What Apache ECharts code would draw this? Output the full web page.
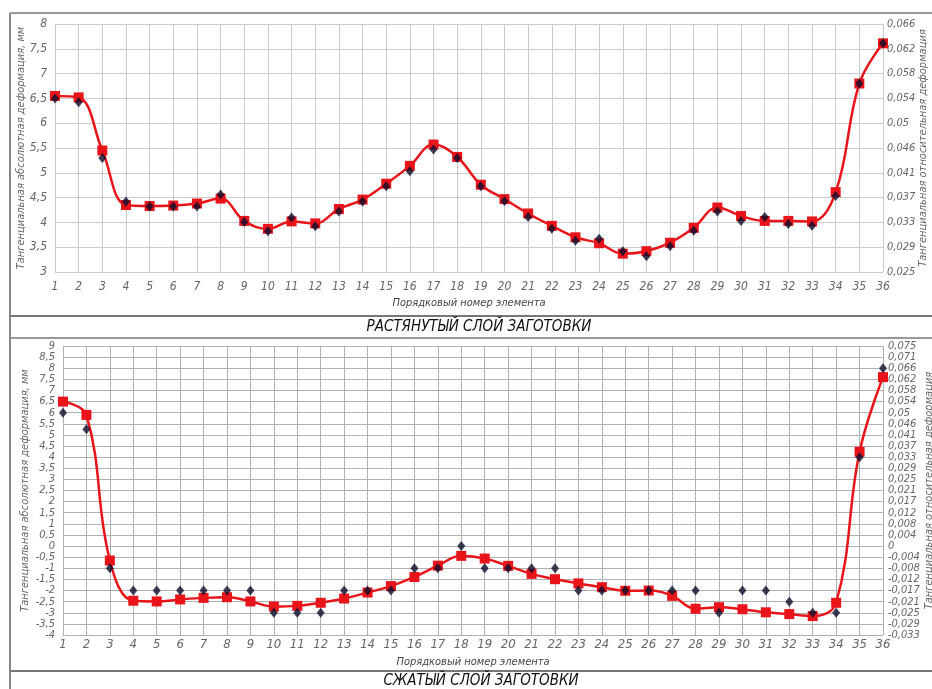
<!DOCTYPE html>
<html>
<head>
<meta charset="utf-8">
<script src="https://cdn.jsdelivr.net/npm/echarts@6/dist/echarts.min.js"></script>
<style>
html,body{margin:0;padding:0;background:#fff;}
#c{width:932px;height:689px;}
</style>
</head>
<body>
<div id="c"></div>
<script>
var categories = [];
for (var i = 1; i <= 36; i++) categories.push(String(i));

var topRed = [6.55, 6.52, 5.45, 4.35, 4.33, 4.34, 4.38, 4.48, 4.03, 3.87, 4.02, 3.98, 4.27, 4.46, 4.78, 5.14, 5.57, 5.32, 4.76, 4.47, 4.18, 3.93, 3.70, 3.58, 3.37, 3.42, 3.59, 3.89, 4.30, 4.13, 4.03, 4.03, 4.02, 4.61, 6.80, 7.61];
var topBlack = [6.50, 6.42, 5.30, 4.42, 4.32, 4.32, 4.32, 4.56, 4.01, 3.82, 4.10, 3.92, 4.22, 4.42, 4.73, 5.03, 5.47, 5.30, 4.73, 4.43, 4.11, 3.87, 3.63, 3.67, 3.42, 3.32, 3.52, 3.83, 4.22, 4.03, 4.11, 3.97, 3.93, 4.53, 6.80, 7.61];

var botRed = [6.5, 5.9, -0.65, -2.46, -2.49, -2.40, -2.33, -2.30, -2.49, -2.72, -2.69, -2.55, -2.36, -2.09, -1.80, -1.39, -0.88, -0.44, -0.56, -0.89, -1.25, -1.49, -1.68, -1.85, -2.01, -2.0, -2.24, -2.82, -2.75, -2.84, -2.98, -3.06, -3.15, -2.55, 4.24, 7.6];
var botBlack = [6, 5.25, -1, -2, -2, -2, -2, -2, -2, -3, -3, -3, -2, -2, -2, -1, -1, 0, -1, -1, -1, -1, -2, -2, -2, -2, -2, -2, -3, -2, -2, -2.5, -3, -3, 4, 8];

var topRightTicks = ['0,025', '0,029', '0,033', '0,037', '0,041', '0,046', '0,05', '0,054', '0,058', '0,062', '0,066'];
var botRightTicks = ['-0,033', '-0,029', '-0,025', '-0,021', '-0,017', '-0,012', '-0,008', '-0,004', '0', '0,004', '0,008', '0,012', '0,017', '0,021', '0,025', '0,029', '0,033', '0,037', '0,041', '0,046', '0,05', '0,054', '0,058', '0,062', '0,066', '0,071', '0,075'];

var titleTop = 'РАСТЯНУТЫЙ СЛОЙ ЗАГОТОВКИ';
var titleBot = 'СЖАТЫЙ СЛОЙ ЗАГОТОВКИ';
var xName = 'Порядковый номер элемента';
var yNameLeft = 'Тангенциальная абсолютная деформация, мм';
var yNameRight = 'Тангенциальная относительная деформация';

var FONT = '"Liberation Sans Narrow", "DejaVu Sans Condensed", "Roboto", sans-serif';
var labelColor = '#666';
var RED = '#e8141a';
var DARK = '#0c0c2c';

function comma(v) { return String(v).replace('.', ','); }

var chart = echarts.init(document.getElementById('c'), null, {renderer: 'canvas'});

var nameStyle = {color: '#666', fontFamily: FONT, fontStyle: 'italic', fontSize: 11};

var option = {
  backgroundColor: '#fff',
  animation: false,
  grid: [
    {left: 55, top: 24, width: 828, height: 248, containLabel: false, outerBoundsMode: 'none'},
    {left: 63, top: 346, width: 820, height: 289, containLabel: false, outerBoundsMode: 'none'}
  ],
  xAxis: [
    {
      type: 'category', gridIndex: 0, data: categories, boundaryGap: false,
      axisLine: {show: false}, axisTick: {show: false},
      axisLabel: {margin: 9, color: labelColor, fontFamily: FONT, fontStyle: 'italic', fontSize: 12, interval: 0},
      splitLine: {show: true, lineStyle: {color: '#cacaca', width: 1}},
      name: xName, nameLocation: 'middle', nameGap: 26, nameMoveOverlap: false,
      nameTextStyle: {color: '#444', fontFamily: FONT, fontStyle: 'italic', fontSize: 11, verticalAlign: 'top'}
    },
    {
      type: 'category', gridIndex: 1, data: categories, boundaryGap: false,
      axisLine: {show: false}, axisTick: {show: false},
      axisLabel: {margin: 3, color: labelColor, fontFamily: FONT, fontStyle: 'italic', fontSize: 13, interval: 0},
      splitLine: {show: true, lineStyle: {color: '#b0b0b0', width: 1}},
      name: xName, nameLocation: 'middle', nameGap: 22, nameMoveOverlap: false,
      nameTextStyle: {color: '#444', fontFamily: FONT, fontStyle: 'italic', fontSize: 11, verticalAlign: 'top'}
    }
  ],
  yAxis: [
    {
      type: 'value', gridIndex: 0, min: 3, max: 8, interval: 0.5, position: 'left',
      axisLine: {show: false}, axisTick: {show: false},
      axisLabel: {margin: 8, color: labelColor, fontFamily: FONT, fontStyle: 'italic', fontSize: 12, showMinLabel: true, showMaxLabel: true, formatter: function (v) { return comma(v); }},
      splitLine: {show: true, lineStyle: {color: '#cacaca', width: 1}},
      name: yNameLeft, nameLocation: 'middle', nameGap: 28, nameRotate: 90, nameMoveOverlap: false,
      nameTextStyle: nameStyle
    },
    {
      type: 'value', gridIndex: 0, min: 3, max: 8, interval: 0.5, position: 'right',
      axisLine: {show: false}, axisTick: {show: false}, splitLine: {show: false},
      axisLabel: {margin: 4, color: labelColor, fontFamily: FONT, fontStyle: 'italic', fontSize: 11, showMinLabel: true, showMaxLabel: true,
        formatter: function (v) { return topRightTicks[Math.round((v - 3) / 0.5)] || ''; }},
      name: yNameRight, nameLocation: 'middle', nameGap: 35, nameRotate: 90, nameMoveOverlap: false,
      nameTextStyle: nameStyle
    },
    {
      type: 'value', gridIndex: 1, min: -4, max: 9, interval: 0.5, position: 'left',
      axisLine: {show: false}, axisTick: {show: false},
      axisLabel: {margin: 8, color: labelColor, fontFamily: FONT, fontStyle: 'italic', fontSize: 11, lineHeight: 11, showMinLabel: true, showMaxLabel: true, hideOverlap: false,
        formatter: function (v) { return comma(v); }},
      splitLine: {show: true, lineStyle: {color: '#b0b0b0', width: 1}},
      name: yNameLeft, nameLocation: 'middle', nameGap: 32, nameRotate: 90, nameMoveOverlap: false,
      nameTextStyle: nameStyle
    },
    {
      type: 'value', gridIndex: 1, min: -4, max: 9, interval: 0.5, position: 'right',
      axisLine: {show: false}, axisTick: {show: false}, splitLine: {show: false},
      axisLabel: {margin: 5, color: labelColor, fontFamily: FONT, fontStyle: 'italic', fontSize: 11, lineHeight: 11, showMinLabel: true, showMaxLabel: true, hideOverlap: false,
        formatter: function (v) { return botRightTicks[Math.round((v + 4) / 0.5)] || ''; }},
      name: yNameRight, nameLocation: 'middle', nameGap: 41, nameRotate: 90, nameMoveOverlap: false,
      nameTextStyle: nameStyle
    }
  ],
  series: [
    {
      type: 'line', xAxisIndex: 0, yAxisIndex: 0, data: topRed, smooth: 0.4,
      lineStyle: {color: RED, width: 2.5}, itemStyle: {color: RED},
      symbol: 'rect', symbolSize: 10, showSymbol: true, z: 2
    },
    {
      type: 'scatter', xAxisIndex: 0, yAxisIndex: 0, data: topBlack,
      symbol: 'diamond', symbolSize: [8, 10], itemStyle: {color: DARK}, z: 3
    },
    {
      type: 'line', xAxisIndex: 1, yAxisIndex: 2, data: botRed, smooth: 0.4,
      lineStyle: {color: RED, width: 2.5}, itemStyle: {color: RED},
      symbol: 'rect', symbolSize: 10, showSymbol: true, z: 2
    },
    {
      type: 'scatter', xAxisIndex: 1, yAxisIndex: 2, data: botBlack,
      symbol: 'diamond', symbolSize: [8, 10], itemStyle: {color: DARK}, z: 3
    }
  ],
  graphic: [
    {type: 'line', shape: {x1: 10, y1: 13, x2: 932, y2: 13}, style: {stroke: '#999', lineWidth: 2}, silent: true},
    {type: 'line', shape: {x1: 10, y1: 13, x2: 10, y2: 689}, style: {stroke: '#888', lineWidth: 2}, silent: true},
    {type: 'line', shape: {x1: 10, y1: 316, x2: 932, y2: 316}, style: {stroke: '#777', lineWidth: 2}, silent: true},
    {type: 'line', shape: {x1: 10, y1: 338, x2: 932, y2: 338}, style: {stroke: '#999', lineWidth: 2}, silent: true},
    {type: 'line', shape: {x1: 10, y1: 671, x2: 932, y2: 671}, style: {stroke: '#777', lineWidth: 2}, silent: true},
    {type: 'text', x: 479, y: 327, silent: true,
      style: {text: titleTop, fill: '#111', font: 'italic 15px ' + FONT, textAlign: 'center', textVerticalAlign: 'middle'}},
    {type: 'text', x: 481, y: 681, silent: true,
      style: {text: titleBot, fill: '#111', font: 'italic 15px ' + FONT, textAlign: 'center', textVerticalAlign: 'middle'}}
  ]
};

chart.setOption(option);
</script>
</body>
</html>
